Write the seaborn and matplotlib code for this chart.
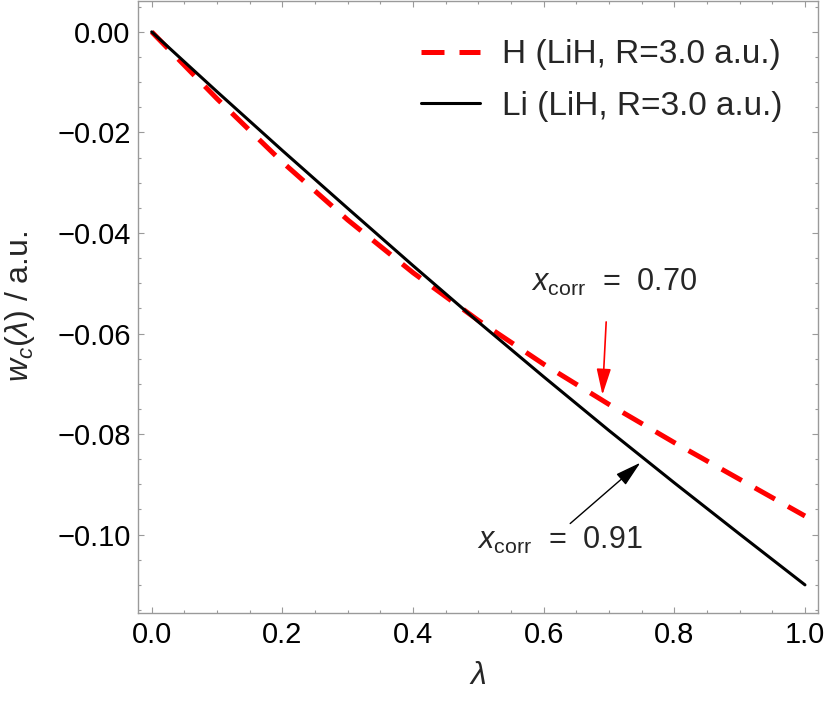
import numpy as np
import pandas as pd
import seaborn as sns
import matplotlib
matplotlib.use("Agg")
import matplotlib.pyplot as plt

# coupling strength lambda and correlation energy per atom (a.u.)
lam = [0.0, 0.1, 0.2, 0.3, 0.4, 0.5, 0.6, 0.7, 0.8, 0.9, 1.0]
w_h = [0.0, -0.0133, -0.0259, -0.0374, -0.0479, -0.0574, -0.0661, -0.0741, -0.0817, -0.0890, -0.0963]
w_li = [0.0, -0.0119, -0.0236, -0.0351, -0.0465, -0.0577, -0.0686, -0.0793, -0.0897, -0.0999, -0.1100]
labels = ["H (LiH, R=3.0 a.u.)", "Li (LiH, R=3.0 a.u.)"]

sns.set_theme(style="ticks")
plt.rcParams["font.family"] = ["Liberation Sans", "DejaVu Sans"]
plt.rcParams["mathtext.fontset"] = "custom"
plt.rcParams["mathtext.rm"] = "Liberation Sans"
plt.rcParams["mathtext.it"] = "Liberation Sans:italic"

frame = "#9a9a9a"

fig = plt.figure(figsize=(8.3, 7.01), dpi=100)
ax = fig.add_axes([0.1657, 0.1255, 0.8202, 0.8735])

df_h = pd.DataFrame({"lam": lam, "w": w_h})
df_li = pd.DataFrame({"lam": lam, "w": w_li})

sns.lineplot(data=df_h, x="lam", y="w", ax=ax, color="#ff0000", lw=3.6,
             label=labels[0])
sns.lineplot(data=df_li, x="lam", y="w", ax=ax, color="black", lw=2.2,
             label=labels[1])
ax.lines[0].set_dashes((4.6, 3.0))
ax.lines[0].set_dash_capstyle("butt")

ax.set_xlim(-0.0217, 1.0204)
ax.set_ylim(-0.1156, 0.0062)
ax.set_xticks([0.0, 0.2, 0.4, 0.6, 0.8, 1.0])
ax.set_xticks(np.arange(0, 1.0001, 0.05), minor=True)
ax.set_yticks([0.0, -0.02, -0.04, -0.06, -0.08, -0.10])
ax.set_yticks(np.arange(-0.115, 0.0051, 0.005), minor=True)
ax.set_xticklabels(["0.0", "0.2", "0.4", "0.6", "0.8", "1.0"])
ax.set_yticklabels(["0.00", "\u22120.02", "\u22120.04", "\u22120.06", "\u22120.08", "\u22120.10"])

for s in ax.spines.values():
    s.set_visible(True)
    s.set_color(frame)
    s.set_linewidth(1.0)
ax.tick_params(which="both", direction="in", top=True, right=True,
               color=frame, labelcolor="black", labelsize=21, width=0.8)
ax.tick_params(which="major", length=4.5)
ax.tick_params(which="minor", length=2.4)
ax.tick_params(axis="x", pad=6)
ax.tick_params(axis="y", pad=5)

ax.set_xlabel(r"$\lambda$", fontsize=23)
ax.set_ylabel(r"$w_c(\lambda)$ / a.u.", fontsize=23)
ax.xaxis.set_label_coords(0.5, -0.079)
ax.yaxis.set_label_coords(-0.147, 0.5)

ax.legend(loc="upper left", bbox_to_anchor=(0.417, 0.937), frameon=False,
          fontsize=24, handlelength=1.75, handletextpad=0.68,
          labelspacing=0.62, borderpad=0, borderaxespad=0)

# annotations for x_corr
ax.text(0.708, -0.0498, r"$x_{\rm corr}$  =  0.70", fontsize=22,
        ha="center", va="center")
ax.annotate("", xy=(0.690, -0.0722), xytext=(0.6957, -0.0577),
            arrowprops=dict(arrowstyle="-|>,head_length=0.8,head_width=0.22",
                            color="#ff0000", lw=1.2, mutation_scale=20,
                            shrinkA=0, shrinkB=0))
ax.text(0.625, -0.1011, r"$x_{\rm corr}$  =  0.91", fontsize=22,
        ha="center", va="center")
ax.annotate("", xy=(0.748, -0.0857), xytext=(0.6406, -0.0978),
            arrowprops=dict(arrowstyle="-|>,head_length=0.8,head_width=0.22",
                            color="black", lw=1.0, mutation_scale=20,
                            shrinkA=0, shrinkB=0))

fig.savefig("out.png", dpi=100)
